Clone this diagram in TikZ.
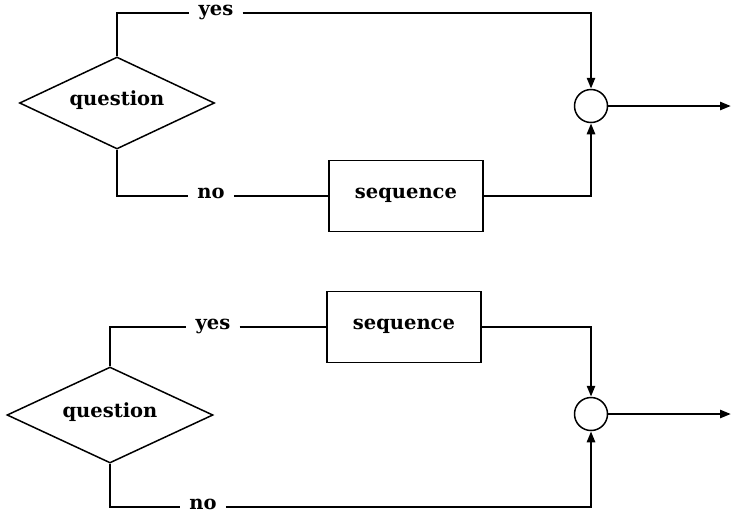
\documentclass[tikz,border=0pt]{standalone}
\usepackage{fontspec}
\setmainfont{DejaVu Serif}
\usetikzlibrary{shapes.geometric,arrows.meta}
\begin{document}
\begin{tikzpicture}[x=1pt,y=-1pt,
  font=\bfseries\fontsize{19.5}{24}\selectfont,
  txt/.style={inner sep=0pt,text height=1ex,text depth=0pt},
  lbl/.style={txt,inner xsep=9pt},
  decision/.style={diamond,aspect=2,draw,line width=1.5pt,txt,minimum width=#1},
  procbox/.style={rectangle,draw,line width=1.5pt,txt,minimum width=154pt,minimum height=71pt},
  junction/.style={circle,draw,line width=1.5pt,minimum size=33pt,inner sep=0pt},
  flow/.style={line width=2.5pt},
  arr/.style={flow,-{Triangle[length=11pt,width=8pt]}}]
\useasboundingbox (0,0) rectangle (733,515);
% top diagram
\node[decision=195pt,minimum height=92pt] (q1) at (117,103) {question};
\node[lbl] (yes1) at (216,13) {yes};
\node[lbl] (no1) at (211,196) {no};
\node[procbox] (s1) at (406,196) {sequence};
\node[junction] (c1) at (591,106) {};
\coordinate (o1) at (731,106);
\draw[flow] (q1.north) |- (yes1.west);
\draw[arr] (yes1.east) -| (c1.north);
\draw[flow] (q1.south) |- (no1.west);
\draw[flow] (no1.east) -- (s1.west);
\draw[arr] (s1.east) -| (c1.south);
\draw[arr] (c1.east) -- (o1);
% bottom diagram
\node[decision=206pt,minimum height=96pt] (q2) at (110,415) {question};
\node[lbl] (yes2) at (213,327) {yes};
\node[procbox] (s2) at (404,327) {sequence};
\node[lbl] (no2) at (203,507) {no};
\node[junction] (c2) at (591,414) {};
\coordinate (o2) at (731,414);
\draw[flow] (q2.north) |- (yes2.west);
\draw[flow] (yes2.east) -- (s2.west);
\draw[arr] (s2.east) -| (c2.north);
\draw[flow] (q2.south) |- (no2.west);
\draw[arr] (no2.east) -| (c2.south);
\draw[arr] (c2.east) -- (o2);
\end{tikzpicture}
\end{document}
